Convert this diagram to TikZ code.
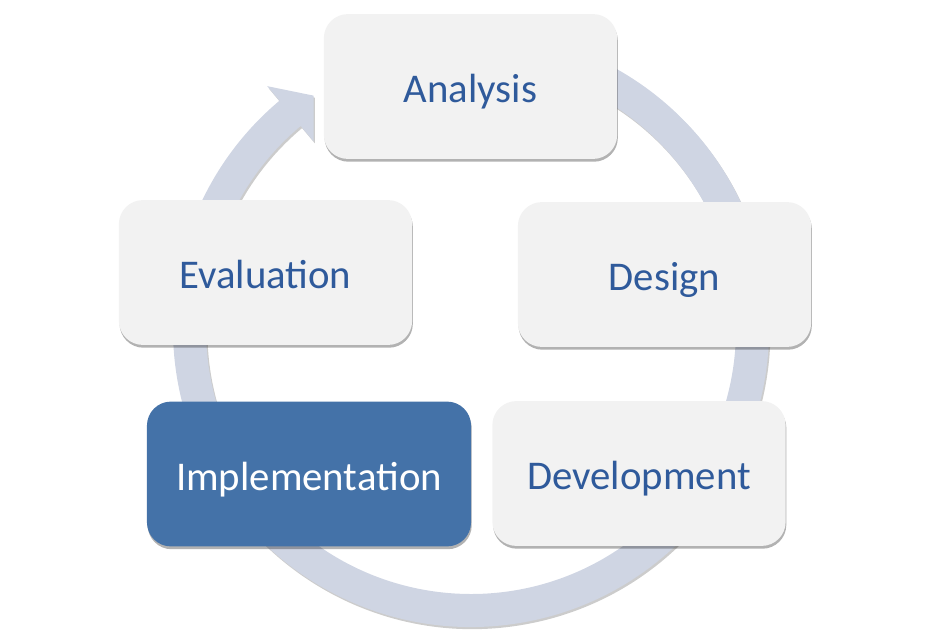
\documentclass[tikz,border=0pt]{standalone}
\usepackage{fontspec}
\setmainfont{Carlito}
\usepackage{xcolor}
\usetikzlibrary{calc, shadows}

\definecolor{ringblue}{RGB}{207,213,227}
\definecolor{boxgray}{RGB}{242,242,242}
\definecolor{textblue}{RGB}{47,90,155}
\definecolor{implblue}{RGB}{68,114,168}

\begin{document}
\begin{tikzpicture}[x=0.025cm, y=0.025cm,
    stagebox/.style={fill=boxgray, rounded corners=0.6cm,
        minimum width=7.33cm, minimum height=3.62cm,
        text height=28pt, text depth=5pt,
        text=textblue, font=\fontsize{29}{35}\selectfont,
        drop shadow={shadow xshift=0.5pt, shadow yshift=-2pt, opacity=0.3, fill=black}},
    activebox/.style={stagebox, fill=implblue, text=white, minimum width=8.1cm}]

    % =================================================================
    % 1. KHUNG HINH VA TAM VONG TRON
    % =================================================================
    \useasboundingbox (0,0) rectangle (942,641);
    \coordinate (Center) at (471,312);

    % =================================================================
    % 2. VONG MUI TEN CHU KY (MAU XANH XAM NHAT)
    % =================================================================
    \fill[ringblue, drop shadow={shadow xshift=1pt, shadow yshift=-1.5pt, opacity=0.2, fill=black}]
        ($(Center)+(100:298)$) arc[start angle=100, end angle=-230, radius=298]
        -- ($(Center)+(130:317)$) -- ($(Center)+(124:281.5)$)
        -- ($(Center)+(130:245)$) -- ($(Center)+(130:265)$)
        arc[start angle=130, end angle=460, radius=265] -- cycle;

    % =================================================================
    % 3. CAC O GIAI DOAN
    % =================================================================
    \node[stagebox] (Analysis) at (470.5,554.5) {Analysis};
    \node[stagebox] (Design) at (664.5,366.5) {Design};
    \node[stagebox] (Evaluation) at (265.5,368.5) {Evaluation};
    \node[stagebox] (Development) at (639,167.5) {Development};
    \node[activebox] (Implementation) at (309,167) {Implementation};

\end{tikzpicture}
\end{document}
